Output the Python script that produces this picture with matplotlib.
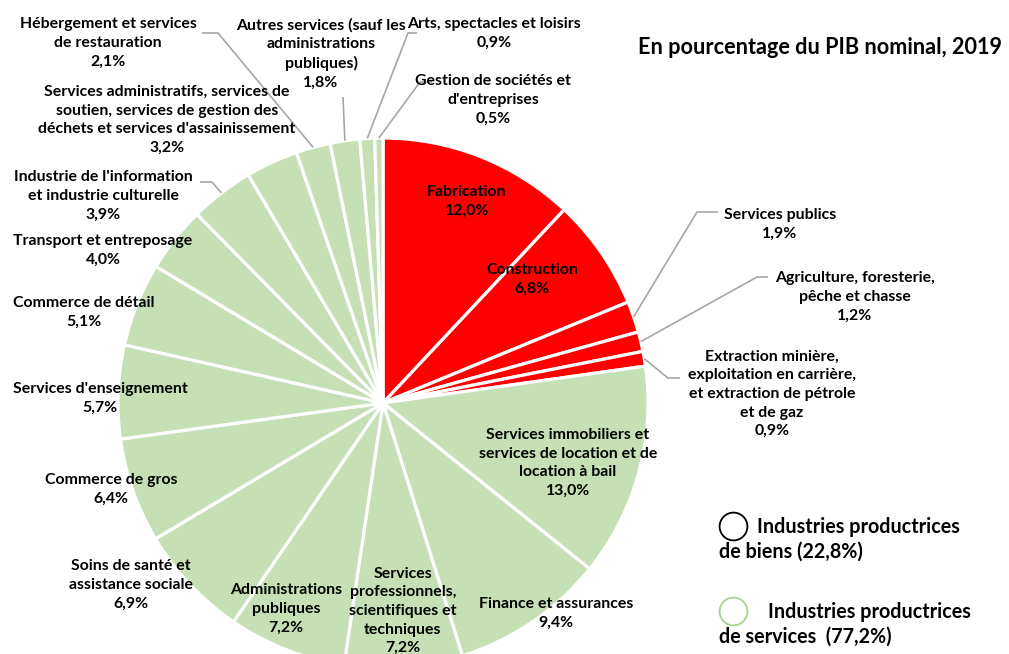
import matplotlib
matplotlib.use("Agg")
import numpy as np
import matplotlib.pyplot as plt

# Part du PIB nominal par industrie, 2019 (ordre horaire depuis midi)
categories = [
    "Fabrication",
    "Construction",
    "Services publics",
    "Agriculture, foresterie,\npêche et chasse",
    "Extraction minière,\nexploitation en carrière,\net extraction de pétrole\net de gaz",
    "Services immobiliers et\nservices de location et de\nlocation à bail",
    "Finance et assurances",
    "Services\nprofessionnels,\nscientifiques et\ntechniques",
    "Administrations\npubliques",
    "Soins de santé et\nassistance sociale",
    "Commerce de gros",
    "Services d'enseignement",
    "Commerce de détail",
    "Transport et entreposage",
    "Industrie de l'information\net industrie culturelle",
    "Services administratifs, services de\nsoutien, services de gestion des\ndéchets et services d'assainissement",
    "Hébergement et services\nde restauration",
    "Autres services (sauf les\nadministrations\npubliques)",
    "Arts, spectacles et loisirs",
    "Gestion de sociétés et\nd'entreprises",
]
values = [12.0, 6.8, 1.9, 1.2, 0.9, 13.0, 9.4, 7.2, 7.2, 6.9,
          6.4, 5.7, 5.1, 4.0, 3.9, 3.2, 2.1, 1.8, 0.9, 0.5]
groups = ["biens"] * 5 + ["services"] * 15
group_names = ["Industries productrices\nde biens (22,8%)",
               "Industries productrices\nde services  (77,2%)"]

RED = "#FF0000"
GREEN = "#C5E0B4"
LEADER = "#A6A6A6"

W, H = 1009, 654
CX, CY, R = 383, 403, 265


def px(x, y):
    # pixel position (from top-left) -> data coords (pie radius = 1)
    return ((x - CX) / R, (CY - y) / R)


# label centres in pixels, and optional leader elbow / end points
label_xy = [
    (467, 201), (532, 279), (780, 224), (855, 297), (772, 394),
    (568, 463), (556, 613), (403, 611), (286, 609), (131, 585),
    (111, 489), (100, 398), (84, 312), (103, 250), (103, 196),
    (167, 120), (108, 43), (321, 54), (494, 33), (493, 100),
]
leaders = {
    2: [(697, 212), (718, 212)],
    3: [(757, 277), (768, 277)],
    4: [(668, 378), (680, 378)],
    14: [(212, 182), (200, 182)],
    16: [(218, 33), (202, 33)],
    17: [(343, 97)],
    18: [(408, 33), (417, 33)],
    19: [(420, 82), (432, 82)],
}

plt.rcParams["font.family"] = ["Lato", "DejaVu Sans"]

fig = plt.figure(figsize=(W / 100, H / 100), dpi=100)
ax = fig.add_axes([0, 0, 1, 1])

colors = [RED if g == "biens" else GREEN for g in groups]
wedges, _ = ax.pie(values, colors=colors, startangle=90, counterclock=False,
                   radius=1.0, wedgeprops=dict(edgecolor="white", linewidth=2.3))

ax.set_xlim(-CX / R, (W - CX) / R)
ax.set_ylim(-(H - CY) / R, CY / R)
ax.set_aspect("equal")
ax.axis("off")

for i, (w, name, v) in enumerate(zip(wedges, categories, values)):
    txt = name + "\n" + f"{v:.1f}".replace(".", ",") + "%"
    tx, ty = px(*label_xy[i])
    ax.text(tx, ty, txt, ha="center", va="center", fontsize=11.4,
            fontweight="bold", linespacing=1.42, color="black")
    pts = leaders.get(i)
    if pts:
        mid = np.deg2rad((w.theta1 + w.theta2) / 2)
        xs = [np.cos(mid)] + [px(*p)[0] for p in pts]
        ys = [np.sin(mid)] + [px(*p)[1] for p in pts]
        ax.plot(xs, ys, color=LEADER, lw=1.2, solid_capstyle="butt")

ax.text(*px(820, 47), "En pourcentage du PIB nominal, 2019", ha="center",
        va="center", fontsize=15.6, fontweight="bold")

# legend drawn by hand, as in the original text box
for (cy, first_x, edge), name in zip([(526, 757, "black"), (611, 768, "#A9D18E")],
                                     group_names):
    ax.plot(*px(733, cy), marker="o", ms=20, mfc="none", mec=edge, mew=1.3)
    l1, l2 = name.split("\n")
    ax.text(*px(first_x, cy + 1), l1, ha="left", va="center",
            fontsize=14.2, fontweight="bold")
    ax.text(*px(719, cy + 26), l2, ha="left", va="center",
            fontsize=14.2, fontweight="bold")

fig.savefig("out.png", dpi=100)
